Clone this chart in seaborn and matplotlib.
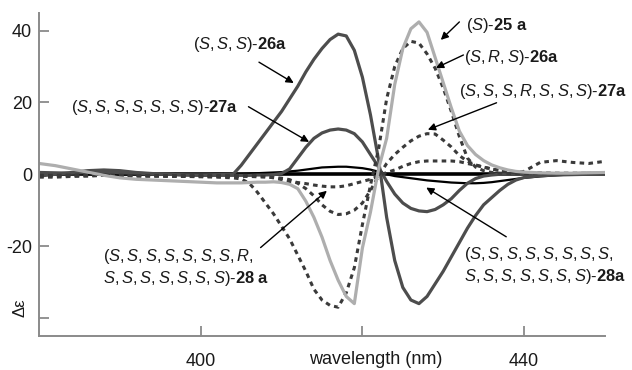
import matplotlib
matplotlib.use("Agg")
import matplotlib.pyplot as plt
import seaborn as sns

# ---------------- data ----------------
wavelength = [380, 382, 384, 386, 388, 390, 392, 394, 396, 398, 400, 402, 404,
              405, 406, 407, 408, 409, 410, 411, 412, 413, 414, 415, 416, 417, 418, 419, 420,
              421, 422, 423, 424, 425, 426, 427, 428, 429, 430, 431, 432, 433, 434, 435, 436,
              437, 438, 439, 440,
              442, 444, 446, 448, 450]

de_25a_S = [3.0, 2.4, 1.5, 0.6, -0.3, -1.0, -1.4, -1.6, -1.8, -2.0, -2.2, -2.4, -2.4,
            -2.4, -2.3, -2.2, -2.2, -2.1, -2.3, -2.8, -4.0, -7.5, -12.0, -17.5, -24.0, -29.5, -34.0, -36.0, -20.5,
            -10.5, 1.5, 10.0, 25.0, 35.0, 40.5, 42.4, 39.5, 32.5, 25.5, 18.5, 12.0, 8.0, 5.5, 3.8, 2.6,
            1.8, 1.2, 0.8, 0.6,
            0.4, 0.3, 0.3, 0.4, 0.5]

de_26a_SSS = [-0.5, 0.0, 0.5, 1.0, 1.2, 1.0, 0.5, 0.2, 0.0, -0.2, -0.2, -0.1, 0.0,
              2.5, 5.5, 8.5, 11.5, 14.5, 17.5, 21.0, 24.5, 28.5, 32.0, 35.0, 37.5, 39.0, 38.5, 34.5, 27.0,
              16.5, 4.0, -12.0, -24.0, -31.5, -35.0, -36.0, -34.0, -30.5, -27.0, -23.0, -19.0, -15.0, -11.5, -8.5, -6.5,
              -4.5, -2.8, -1.6, -0.9,
              -0.4, -0.2, -0.1, 0.0, 0.0]

de_26a_SRS = [-0.8, -0.8, -0.6, -0.5, -0.3, -0.3, -0.4, -0.5, -0.5, -0.6, -0.7, -0.8, -1.0,
              -1.3, -2.5, -5.0, -8.0, -11.0, -14.5, -18.0, -22.5, -27.0, -32.0, -35.0, -36.5, -37.0, -33.0, -26.0, -14.0,
              -3.0, 7.0, 21.0, 30.0, 35.0, 37.0, 36.5, 33.5, 29.5, 24.0, 17.5, 10.5, 4.5, 2.0, 1.0, 0.5,
              0.3, 0.2, 0.2, 0.2,
              0.2, 0.2, 0.2, 0.3, 0.3]

de_27a_S7 = [0.5, 0.4, 0.3, 0.5, 0.6, 0.4, 0.3, 0.1, 0.0, -0.2, -0.3, -0.3, -0.3,
             -0.3, -0.3, -0.2, -0.2, -0.1, 0.2, 1.5, 4.5, 7.5, 10.0, 11.5, 12.3, 12.6, 12.3, 11.3, 9.0,
             5.5, 2.0, -2.0, -5.5, -8.0, -9.5, -10.2, -10.4, -9.8, -8.5, -6.8, -4.5, -2.5, -1.2, -0.5, -0.2,
             0.0, 0.0, 0.0, 0.0,
             0.0, 0.0, 0.0, 0.1, 0.1]

de_27a_R = [-0.3, -0.3, -0.2, -0.2, -0.3, -0.4, -0.5, -0.5, -0.6, -0.6, -0.6, -0.6, -0.6,
            -0.6, -0.6, -0.7, -0.8, -0.9, -1.1, -1.5, -2.5, -4.0, -6.0, -8.5, -10.3, -11.2, -11.0, -10.0, -8.0,
            -4.5, -0.5, 3.0, 5.5, 7.5, 9.3, 10.6, 11.3, 11.2, 9.5, 7.6, 5.2, 3.6, 2.6, 2.0, 1.4,
            1.1, 0.9, 0.7, 0.5,
            0.4, 0.3, 0.3, 0.3, 0.3]

de_28a_R = [-0.5, -0.5, -0.4, -0.4, -0.3, -0.3, -0.4, -0.4, -0.4, -0.3, -0.3, -0.3, -0.3,
            -0.3, -0.3, -0.4, -0.6, -1.0, -1.5, -2.0, -2.3, -2.6, -3.0, -3.3, -3.5, -3.5, -3.2, -2.6, -2.0,
            -1.4, -0.5, 0.5, 1.2, 2.2, 3.0, 3.5, 3.7, 3.7, 3.7, 3.7, 3.5, 3.0, 2.5, 2.0, 1.5,
            1.0, 0.6, 0.4, 0.8,
            3.3, 3.8, 3.3, 3.0, 3.6]

de_28a_S = [0.2, 0.3, 0.2, 0.0, -0.2, -0.1, 0.0, 0.1, 0.0, 0.0, 0.0, 0.1, 0.1,
            0.1, 0.2, 0.3, 0.4, 0.5, 0.6, 0.8, 1.0, 1.3, 1.6, 1.9, 2.0, 2.1, 2.1, 1.9, 1.7,
            1.3, 0.7, 0.0, -0.5, -0.8, -1.1, -1.4, -1.7, -1.9, -2.1, -2.3, -2.4, -2.5, -2.5, -2.4, -2.2,
            -1.9, -1.6, -1.3, -1.0,
            -0.6, -0.3, 0.0, 0.2, 0.3]

x_ticks = [400, 420, 440]
x_tick_labels = ["400", "", "440"]
y_ticks = [40, 20, 0, -20, -40]
y_tick_labels = ["40", "20", "0", "-20", ""]

labels = {
    "26a_SSS": r"($\mathit{S,S,S}$)-$\mathbf{26a}$",
    "27a_S7": r"($\mathit{S,S,S,S,S,S,S}$)-$\mathbf{27a}$",
    "25a_S": r"($\mathit{S}$)-$\mathbf{25\ a}$",
    "26a_SRS": r"($\mathit{S,R,S}$)-$\mathbf{26a}$",
    "27a_R": r"($\mathit{S,S,S,R,S,S,S}$)-$\mathbf{27a}$",
    "28a_R": r"($\mathit{S,S,S,S,S,S,S,R,}$" + "\n" + r"$\mathit{S,S,S,S,S,S,S}$)-$\mathbf{28\ a}$",
    "28a_S": r"($\mathit{S,S,S,S,S,S,S,S,}$" + "\n" + r"$\mathit{S,S,S,S,S,S,S}$)-$\mathbf{28a}$",
}

# ---------------- style ----------------
sns.set_theme(style="ticks")
plt.rcParams["font.family"] = ["Liberation Sans", "DejaVu Sans"]
plt.rcParams["mathtext.fontset"] = "custom"
plt.rcParams["mathtext.rm"] = "Liberation Sans"
plt.rcParams["mathtext.it"] = "Liberation Sans:italic"
plt.rcParams["mathtext.bf"] = "Liberation Sans:bold"
plt.rcParams["axes.unicode_minus"] = False

fig = plt.figure(figsize=(6.32, 3.70), dpi=100)
ax = fig.add_axes([0.062, 0.092, 0.895, 0.874])

dot = (0, (1.5, 1.4))
DARK = "#4d4d4d"
DOTC = "#3a3a3a"
LIGHT = "#aeaeae"

ax.axhline(0, color="black", lw=2.6, zorder=1.5)

series = [
    (de_28a_S, "black", 1.6, "-"),
    (de_27a_S7, DARK, 2.3, "-"),
    (de_26a_SSS, DARK, 2.3, "-"),
    (de_28a_R, DOTC, 2.2, dot),
    (de_27a_R, DOTC, 2.2, dot),
    (de_26a_SRS, DOTC, 2.2, dot),
    (de_25a_S, LIGHT, 2.3, "-"),
]
for vals, col, lw, ls in series:
    sns.lineplot(x=wavelength, y=vals, ax=ax, color=col, linewidth=lw,
                 linestyle=ls, estimator=None, sort=False, legend=False,
                 dash_capstyle="butt", solid_joinstyle="round")

ax.set_xlim(380, 450)
ax.set_ylim(-45, 45)
ax.set_xticks(x_ticks)
ax.set_xticklabels(x_tick_labels)
ax.set_yticks(y_ticks)
ax.set_yticklabels(y_tick_labels)
ax.tick_params(direction="in", length=7, width=1.2, color="#808080",
               labelsize=13, labelcolor="#1a1a1a")
ax.tick_params(axis="x", pad=12)
ax.tick_params(axis="y", pad=5)
for s in ["top", "right"]:
    ax.spines[s].set_visible(False)
for s in ["left", "bottom"]:
    ax.spines[s].set_color("#8a8a8a")
    ax.spines[s].set_linewidth(1.4)

ax.set_xlabel("wavelength (nm)", fontsize=13, color="#1a1a1a")
ax.xaxis.set_label_coords(0.595, -0.048)
ax.set_ylabel("Δε", fontsize=12, color="#1a1a1a")
ax.yaxis.set_label_coords(-0.02, 0.087)

fs = 11.9
text_kw = dict(fontsize=fs, color="#1a1a1a", va="center", ha="left",
               multialignment="left", clip_on=False)
ax.text(399.0, 36.0, labels["26a_SSS"], **text_kw)
ax.text(383.9, 18.5, labels["27a_S7"], **text_kw)
ax.text(432.8, 41.5, labels["25a_S"], **text_kw)
ax.text(432.6, 32.6, labels["26a_SRS"], **text_kw)
ax.text(431.9, 22.9, labels["27a_R"], **text_kw)
ax.text(387.9, -26.0, labels["28a_R"], **text_kw)
ax.text(432.6, -25.4, labels["28a_S"], **text_kw)

arrows = [
    ((407.2, 31.2), (411.5, 25.4)),
    ((405.9, 18.8), (413.4, 9.0)),
    ((432.0, 42.4), (429.7, 37.4)),
    ((432.5, 33.2), (429.1, 29.6)),
    ((436.6, 19.9), (428.1, 12.4)),
    ((407.4, -20.4), (415.6, -4.6)),
    ((437.8, -17.4), (427.9, -3.7)),
]
for start, tip in arrows:
    ax.annotate("", xy=tip, xytext=start, annotation_clip=False,
                arrowprops=dict(arrowstyle="-|>", color="black", lw=1.0,
                                mutation_scale=11, shrinkA=0, shrinkB=0))

fig.savefig("out.png", dpi=100)
